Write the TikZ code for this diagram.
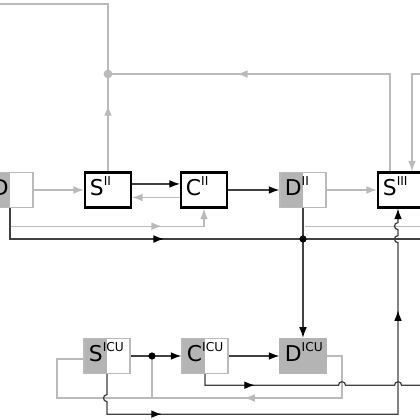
\documentclass[tikz,border=0pt]{standalone}
\usepackage{fontspec}
\setmainfont{DejaVu Sans}
\usetikzlibrary{arrows.meta,decorations.markings}

\definecolor{linegrey}{RGB}{186,186,186}
\definecolor{boxgrey}{RGB}{180,180,180}
\definecolor{linedark}{RGB}{65,65,65}

\newcommand{\boxlabel}[2]{{\fontsize{15.5}{15}\selectfont #1}\raisebox{7.4pt}{\fontsize{8.7}{9}\selectfont #2}}

\tikzset{
  greytip/.tip={Latex[length=7.5pt,width=5.5pt]},
  darktip/.tip={Latex[length=7.5pt,width=5.5pt,color=black]},
}

\begin{document}
\begin{tikzpicture}[x=0.025cm, y=0.025cm,
    block/.style={rectangle, minimum width=32.7pt, minimum height=24.9pt,
      inner xsep=3.5pt, inner ysep=0pt, text width=25.7pt,
      text height=13.5pt, text depth=5pt, align=left, fill=white},
    ctrl/.style={block, draw=black, line width=1.5pt},
    split/.style={block, draw=linegrey, line width=1pt,
      path picture={\fill[boxgrey] (path picture bounding box.south west)
        rectangle (path picture bounding box.north);}},
    filled/.style={block, fill=boxgrey, draw=boxgrey, line width=1pt},
    dot/.style={circle, fill=black, inner sep=1.8pt},
    greydot/.style={circle, fill=linegrey, inner sep=2.2pt},
    grey line/.style={draw=linegrey, line width=1pt},
    dark line/.style={draw=linedark, line width=0.9pt},
    midgrey/.style={postaction=decorate, decoration={markings,
      mark=at position #1 with {\arrow{greytip}}}},
    middark/.style={postaction=decorate, decoration={markings,
      mark=at position #1 with {\arrow{darktip}}}},
    twodark/.style 2 args={postaction=decorate, decoration={markings,
      mark=at position #1 with {\arrow{darktip}},
      mark=at position #2 with {\arrow{darktip}}}}]
    \useasboundingbox (0,0) rectangle (420,420);

    % blocks
    \node[split] (dI) at (10,230) {\boxlabel{D}{}};
    \node[ctrl] (sII) at (108,230) {\boxlabel{S}{II}};
    \node[ctrl] (cII) at (204,230) {\boxlabel{C}{II}};
    \node[split] (dII) at (303,230) {\boxlabel{D}{II}};
    \node[ctrl] (sIII) at (401,230) {\boxlabel{S}{III}};
    \node[split] (sICU) at (107,64) {\boxlabel{S}{ICU}};
    \node[split] (cICU) at (205,64) {\boxlabel{C}{ICU}};
    \node[filled] (dICU) at (303,64) {\boxlabel{D}{ICU}};

    % junctions and corners
    \coordinate (hub) at (108,346);
    \coordinate (jn) at (303,181);
    \coordinate (sp) at (152,64);
    \coordinate (ret) at (390,346);
    \coordinate (feed) at (412,346);
    \coordinate (loopR) at (342,22);
    \coordinate (loopL) at (57,22);

    % upper loops
    \draw[grey line] (-20,416) -| (hub);
    \draw[grey line, midgrey=0.68] (sII.north) -- (hub);
    \draw[grey line, midgrey=0.66] (sIII.north -| ret) -- (ret) -- (hub);
    \draw[grey line, -greytip] (430,346) -- (feed) -- (feed |- sIII.north);

    % top row
    \draw[grey line, -greytip] (dI) -- (sII);
    \draw[dark line, -darktip] ([yshift=4.3pt]sII.east) -- ([yshift=4.3pt]cII.west);
    \draw[grey line, -greytip] ([yshift=-5.3pt]cII.west) -- ([yshift=-5.3pt]sII.east);
    \draw[dark line, -darktip] (cII) -- (dII);
    \draw[grey line, -greytip] (dII) -- (sIII);

    % lines under the top row
    \draw[grey line, -greytip, midgrey=0.74] (dI.south) -- ++(0,-18) -| (cII.south);
    \draw[dark line, middark=0.41] (dI.south) |- (jn) -- ++(127,0);
    \draw[grey line] (dII.south) ++(2,-18) -- ++(130,0);
    \draw[dark line, -darktip] (dII.south) -- (dICU.north);

    % bottom row
    \draw[dark line, -darktip] (sICU) -- (cICU);
    \draw[dark line, -darktip] (cICU) -- (dICU);
    \draw[grey line] (sp) -- (sp |- loopL);
    \draw[grey line, midgrey=0.38] (dICU.east) -| (loopR) -- (loopL) |- ([yshift=-2pt]sICU.west);
    \draw[dark line, middark=0.25] (cICU.south) -- ++(0,-11) -- ++(133.5,0)
      arc[start angle=180, end angle=0, radius=2.5pt] -- ++(49,0)
      arc[start angle=180, end angle=0, radius=2.5pt] -- ++(28,0);
    \draw[dark line, -darktip, twodark={0.18}{0.80}] (sICU.south) -- ++(0,-20.4)
      arc[start angle=90, end angle=270, radius=2.5pt] -- ++(0,-12.5) -- ++(291,0)
      -- ++(0,171.5) arc[start angle=270, end angle=90, radius=2.5pt] -- ++(0,6)
      arc[start angle=270, end angle=90, radius=2.5pt] -- ([xshift=-2.1pt]sIII.south);

    % junction dots on top
    \node[greydot] at (hub) {};
    \node[dot] at (jn) {};
    \node[dot] at (sp) {};
\end{tikzpicture}
\end{document}
